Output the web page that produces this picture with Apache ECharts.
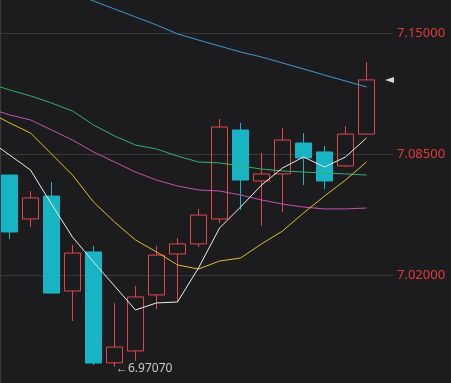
<!DOCTYPE html>
<html>
<head>
<meta charset="utf-8">
<script src="https://cdn.jsdelivr.net/npm/echarts@6/dist/echarts.min.js"></script>
<style>
html,body{margin:0;padding:0;background:#1c1c1f;}
#c{width:451px;height:383px;}
</style>
</head>
<body>
<div id="c"></div>
<script>
// categories: first slot is the (off-screen) previous bar, last slot is empty room for the price pointer
var categories = ['0','1','2','3','4','5','6','7','8','9','10','11','12','13','14','15','16','17','18','19'];
var opens  = [7.0737, 7.0501, 7.0624, 7.0114, 7.0324, 6.9728, 6.9792, 7.0093, 7.0313, 7.0367, 7.0501, 7.0979, 7.0705, 7.0743, 7.0909, 7.0861, 7.0786, 7.0957];
var closes = [7.0431, 7.0614, 7.0103, 7.0318, 6.9727, 6.9813, 7.0082, 7.0307, 7.0367, 7.0522, 7.0995, 7.0710, 7.0743, 7.0925, 7.0829, 7.0705, 7.0957, 7.1248];
var lows   = [7.0393, 7.0458, 7.0100, 6.9953, 6.9716, 6.9707, 6.9738, 7.0017, 7.0055, 7.0350, 7.0479, 7.0549, 7.0463, 7.0538, 7.0683, 7.0662, 7.0780, 7.0955];
var highs  = [7.0740, 7.0651, 7.0700, 7.0361, 7.0356, 7.0050, 7.0141, 7.0356, 7.0399, 7.0555, 7.1038, 7.1017, 7.0855, 7.0990, 7.0963, 7.0893, 7.1000, 7.1344];
// moving averages (first value belongs to the off-screen previous bar)
var maWhite  = [7.0925, 7.0845, 7.0764, 7.0581, 7.0404, 7.0270, 7.0141, 7.0012, 7.0050, 7.0055, 7.0238, 7.0452, 7.0565, 7.0683, 7.0775, 7.0834, 7.0780, 7.0834, 7.0936];
var maYellow = [7.1076, 7.1017, 7.0963, 7.0850, 7.0737, 7.0592, 7.0485, 7.0388, 7.0324, 7.0254, 7.0232, 7.0275, 7.0291, 7.0367, 7.0436, 7.0533, 7.0624, 7.0710, 7.0807];
var maGreen  = [7.1231, 7.1194, 7.1162, 7.1124, 7.1081, 7.1006, 7.0947, 7.0898, 7.0877, 7.0839, 7.0807, 7.0802, 7.0786, 7.0769, 7.0759, 7.0753, 7.0748, 7.0743, 7.0737];
var maPink   = [7.1097, 7.1060, 7.1033, 7.0979, 7.0925, 7.0861, 7.0807, 7.0753, 7.0710, 7.0678, 7.0657, 7.0651, 7.0630, 7.0603, 7.0581, 7.0565, 7.0555, 7.0555, 7.0560];
var maBlue   = [7.1898, 7.1844, 7.1801, 7.1758, 7.1715, 7.1672, 7.1629, 7.1586, 7.1543, 7.1495, 7.1462, 7.1430, 7.1398, 7.1371, 7.1339, 7.1307, 7.1274, 7.1242, 7.1210];
var yMin = 6.955, yMax = 7.215, yStep = 0.065;

var RED = '#e0474c', CYAN = '#19b4c4', BG = '#1c1c1f';
var candles = ['-'].concat(opens.map(function(o, i){ return [o, closes[i], lows[i], highs[i]]; }));
var lastIdx = candles.length - 1;

function ma(name, data, color){
  return {name: name, type: 'line', xAxisIndex: 0, yAxisIndex: 0, data: data,
    symbol: 'none', smooth: false, lineStyle: {color: color, width: 1}, z: 3, silent: true};
}

var chart = echarts.init(document.getElementById('c'));
chart.setOption({
  backgroundColor: BG,
  animation: false,
  grid: [
    {left: -22, width: 420, top: -88, height: 484, containLabel: false, outerBoundsMode: 'none'},
    {left: 0, width: 393, top: -88, height: 484, containLabel: false, outerBoundsMode: 'none'}
  ],
  xAxis: [
    {type: 'category', gridIndex: 0, data: categories, boundaryGap: true, show: false},
    {type: 'value', gridIndex: 1, min: 0, max: 1, show: false}
  ],
  yAxis: [
    {type: 'value', gridIndex: 0, min: yMin, max: yMax, interval: yStep, show: false},
    {type: 'value', gridIndex: 1, position: 'right', min: yMin, max: yMax, interval: yStep,
      axisLine: {show: true, lineStyle: {color: '#3a3a3c', width: 1}},
      axisTick: {show: false},
      splitLine: {show: true, lineStyle: {color: '#38383a', width: 1}},
      axisLabel: {show: true, color: '#e03c3c', fontSize: 13, margin: 4,
        fontFamily: 'Noto Sans, sans-serif',
        formatter: function(v){ return v.toFixed(5); }}
    }
  ],
  series: [
    {type: 'candlestick', xAxisIndex: 0, yAxisIndex: 0, data: candles, barWidth: 16, z: 2,
      itemStyle: {color: 'transparent', color0: CYAN, borderColor: RED, borderColor0: CYAN, borderWidth: 1},
      markPoint: {
        silent: true,
        data: [
          {type: 'min', valueDim: 'lowest', symbol: 'circle', symbolSize: 1,
            itemStyle: {color: 'transparent'},
            label: {show: true, position: 'right', distance: 1, offset: [0, 2],
              color: '#c8c8c8', fontSize: 12, fontFamily: 'Noto Sans, sans-serif',
              formatter: function(p){ return '\u2190' + p.value.toFixed(5); }}},
          {coord: [lastIdx + 1, closes[closes.length - 1]], symbol: 'triangle', symbolRotate: 90,
            symbolSize: [6, 9], symbolOffset: [2, 0], itemStyle: {color: '#d8d8d8'},
            label: {show: false}}
        ]
      }
    },
    ma('blue', maBlue, '#3f97d6'),
    ma('green', maGreen, '#2fb26e'),
    ma('pink', maPink, '#c452ae'),
    ma('yellow', maYellow, '#e2bd2c'),
    ma('white', maWhite, '#ececec')
  ]
});
</script>
</body>
</html>
